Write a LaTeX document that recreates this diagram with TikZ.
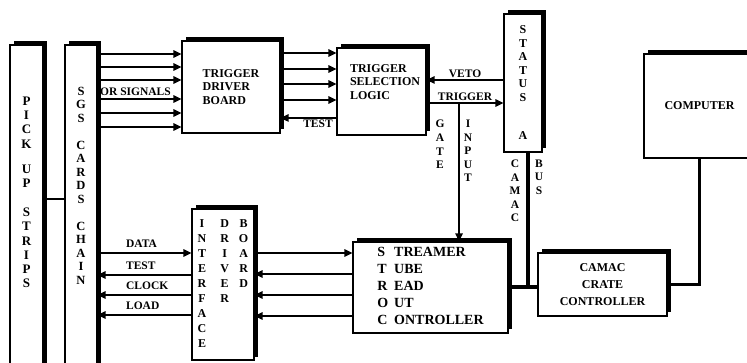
\documentclass[tikz,border=0pt]{standalone}
\usepackage{fontspec}
\setmainfont{Liberation Serif}
\usetikzlibrary{arrows.meta, shadows}

\begin{document}
\begin{tikzpicture}[x=1pt, y=-1pt, >={Triangle[length=8pt, width=7.5pt]}, line width=1.4pt,
  every node/.style={font=\bfseries\fontsize{12}{13.5}\selectfont},
  blk/.style={draw, fill=white, line width=1.3pt, inner sep=0pt, general shadow={fill=black, shadow xshift=3.5pt, shadow yshift=3.5pt}},
  lbl/.style={font=\bfseries\fontsize{11.5}{13}\selectfont, inner sep=1.5pt},
  vlbl/.style={align=center, font=\bfseries\fontsize{11.5}{13.6}\selectfont},
  bus/.style={line width=4pt}]
  \useasboundingbox (0,0) rectangle (747,363);
  \clip (0,0) rectangle (747,363);

  % boxes
  \node[blk, minimum width=33pt, minimum height=330pt] (pick) at (26.5,210) {};
  \node[align=center, font=\bfseries\fontsize{13}{14.2}\selectfont] (picktxt) at (26.5,192.5) {P\\I\\C\\K\\[11pt]U\\P\\[15pt]S\\T\\R\\I\\P\\S};
  \node[blk, minimum width=32pt, minimum height=330pt] (sgs) at (81,210) {};
  \node[align=center, font=\bfseries\fontsize{12.5}{13.5}\selectfont] (sgstxt) at (81,185.5) {S\\G\\S\\[13.5pt]C\\A\\R\\D\\S\\[13.5pt]C\\H\\A\\I\\N};
  \node[blk, align=left, minimum width=98pt, minimum height=92pt] (driver) at (231,87) {TRIGGER\\DRIVER\\BOARD};
  \node[blk, minimum width=89pt, minimum height=87pt] (select) at (381.5,91.5) {};
  \node[align=left, anchor=west] (seltxt) at (346,82) {TRIGGER\\SELECTION\\LOGIC};
  \node[blk, align=center, minimum width=38pt, minimum height=138pt] (status) at (523,83) {S\\T\\A\\T\\U\\S\\[25pt]A};
  \node[blk, minimum width=62pt, minimum height=151pt, font=\bfseries\fontsize{12}{15}\selectfont] (iface) at (223,284.5)
    {\begin{tabular}{@{}c@{\hspace{14pt}}c@{\hspace{10pt}}c@{}}
      I&D&B\\ N&R&O\\ T&I&A\\ E&V&R\\ R&E&D\\ F&R&\\ A&&\\ C&&\\ E&&
    \end{tabular}};
  \node[blk, minimum width=155pt, minimum height=91pt, font=\bfseries\fontsize{14}{17}\selectfont] (streamer) at (430.5,287.5)
    {\begin{tabular}{@{}l@{\hspace{6pt}}l@{}}
      S&TREAMER\\ T&UBE\\ R&EAD\\ O&UT\\ C&ONTROLLER
    \end{tabular}};
  \node[blk, align=center, minimum width=129pt, minimum height=63pt, font=\bfseries\fontsize{12}{17}\selectfont] (crate) at (602.5,284.5) {CAMAC\\CRATE\\CONTROLLER};
  \node[blk, minimum width=111pt, minimum height=104pt] (computer) at (699.5,106) {COMPUTER};

  % trigger side
  \draw (pick.east |- 0,199) -- (sgs.west |- 0,199);
  \foreach \y in {54,67,80,99,113,127}
    \draw[->] (sgs.east |- 0,\y) -- (driver.west |- 0,\y);
  \node[lbl, anchor=south west] (orsig) at (98,97.5) {OR SIGNALS};
  \foreach \y in {53,69,84,100}
    \draw[->] (driver.east |- 0,\y) -- (select.west |- 0,\y);
  \draw[<-] (driver.east |- 0,118) -- (select.west |- 0,118) node[lbl, pos=0.67, below] {TEST};
  \draw[<-] (select.east |- 0,80) -- (status.west |- 0,80) node[lbl, midway, above] {VETO};
  \draw[->] (select.east |- 0,103) -- (status.west |- 0,103) node[lbl, midway, above] {TRIGGER};
  \coordinate (gate) at (459,103);
  \draw[->] (gate) -- (streamer.north -| gate);
  \node[vlbl] (gatelbl) at (440,144.5) {G\\A\\T\\E};
  \node[vlbl] (inputlbl) at (468,151) {I\\N\\P\\U\\T};

  % readout side
  \draw[->] (sgs.east |- 0,253) -- (iface.west |- 0,253) node[lbl, pos=0.28, anchor=south west, yshift=3pt] {DATA};
  \draw[<-] (sgs.east |- 0,275) -- (iface.west |- 0,275) node[lbl, pos=0.28, anchor=south west, yshift=3pt] {TEST};
  \draw[<-] (sgs.east |- 0,295) -- (iface.west |- 0,295) node[lbl, pos=0.28, anchor=south west, yshift=3pt] {CLOCK};
  \draw[<-] (sgs.east |- 0,315) -- (iface.west |- 0,315) node[lbl, pos=0.28, anchor=south west, yshift=3pt] {LOAD};
  \draw[->] (iface.east |- 0,253) -- (streamer.west |- 0,253);
  \foreach \y in {274,295,316}
    \draw[<-] (iface.east |- 0,\y) -- (streamer.west |- 0,\y);

  % camac bus
  \coordinate (busj) at (528,287);
  \draw[bus] (status.south -| busj) -- (busj);
  \draw[bus] (streamer.east |- busj) -- (crate.west |- busj);
  \node[vlbl] (camaclbl) at (515,191) {C\\A\\M\\A\\C};
  \node[vlbl] (buslbl) at (539,177) {B\\U\\S};
  \draw[line width=2.5pt] (computer.south) |- (crate.east);
\end{tikzpicture}
\end{document}
